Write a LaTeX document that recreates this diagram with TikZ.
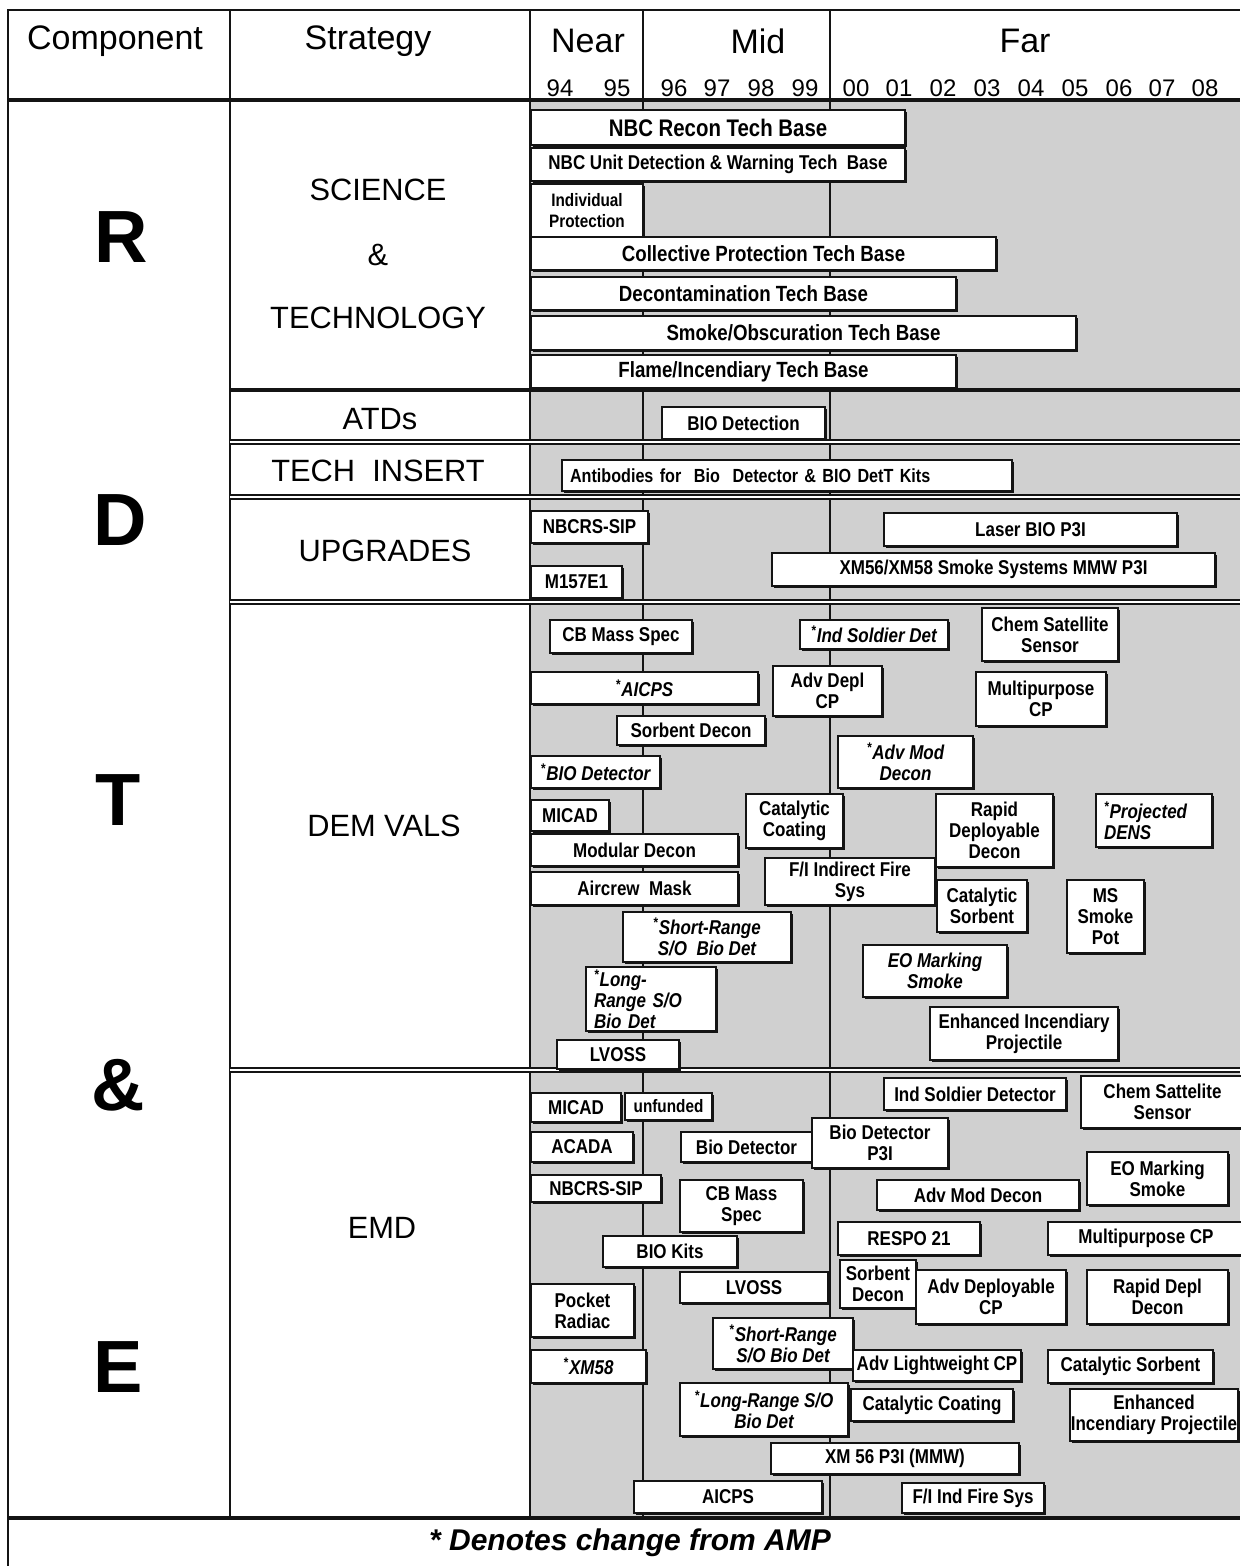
\documentclass[tikz,border=0pt]{standalone}
\usepackage{fontspec}
\setmainfont{Liberation Sans}
\newfontfamily\boxfont{Liberation Sans}[FakeStretch=0.85]
\usepackage{xcolor}
\definecolor{screen}{RGB}{208,208,208}
\definecolor{ink}{RGB}{20,20,20}
\usetikzlibrary{shadows}

%% one programme box: [style] name, x1, y1, x2, y2, text (pixel grid)
\newcommand\bx[7][]{%
  \node[prog,#1,minimum width={(#5-#3)*0.5pt},minimum height={(#6-#4)*0.5pt}]
    (#2) at ({(#3+#5)/2},{(#4+#6)/2}) {#7};}

\begin{document}
\begin{tikzpicture}[x=0.5pt,y=-0.5pt,
  prog/.style={draw=ink,line width=0.9pt,fill=white,inner sep=0pt,align=center,
    font=\boxfont\fontsize{10}{10.5}\selectfont\bfseries,
    drop shadow={shadow xshift=1pt,shadow yshift=-1pt,fill=ink,opacity=1}},
  fs/.style={font=\boxfont\fontsize{#1}{10.5}\selectfont\bfseries},
  it/.style={font=\boxfont\fontsize{10}{10.5}\selectfont\bfseries\itshape},
  lft/.style={align=left,text width={#1*0.5pt},inner xsep=4pt},
  rule/.style={draw=ink,line width=1.1pt},
  heavy/.style={draw=ink,line width=2pt},
  dbl/.style={draw=ink,double,double distance=1.1pt,line width=0.8pt},
  head/.style={font=\fontsize{17}{20}\selectfont},
  strat/.style={font=\fontsize{15.4}{19}\selectfont},
  big/.style={font=\fontsize{37}{40}\selectfont\bfseries},
  yr/.style={font=\fontsize{12}{14}\selectfont}]
  \useasboundingbox (0,0) rectangle (1240,1566);

  %% screened time-line area
  \fill[screen] (530,100) rectangle (1240,1518);

  %% frame and columns
  \draw[rule] (8,1566) -- (8,10) -- (1240,10);
  \foreach \cx in {230,530,643,830}
    \draw[rule] (\cx,10) -- (\cx,1518);
  \draw[heavy] (8,100) -- (1240,100);
  \draw[heavy] (8,1518) -- (1240,1518);
  \draw[heavy] (230,390) -- (1240,390);
  \foreach \ry in {442,497,602,1070}
    \draw[dbl] (230,\ry) -- (1240,\ry);

  %% header
  \node[head] (hcomp) at (115,41) {Component};
  \node[head] (hstrat) at (368,41) {Strategy};
  \node[head] (hnear) at (588,41) {Near};
  \node[head] (hmid) at (758,41) {Mid};
  \node[head] (hfar) at (1025,41) {Far};
  \foreach \yl/\yx in {94/560,95/617,96/674,97/717,98/761,99/805,
      00/856,01/899,02/943,03/987,04/1031,05/1075,06/1119,07/1162,08/1205}
    \node[yr] (y\yl) at (\yx,88) {\yl};

  %% component letters
  \node[big] (cR) at (121,237) {R};
  \node[big] (cD) at (120,520) {D};
  \node[big] (cT) at (118,800) {T};
  \node[big] (cA) at (118,1085) {\&};
  \node[big] (cE) at (118,1367) {E};

  %% strategies
  \node[strat] (sci) at (378,190) {SCIENCE};
  \node[strat] (amp) at (378,255) {\&};
  \node[strat] (tec) at (378,318) {TECHNOLOGY};
  \node[strat] (atd) at (380,419) {ATDs};
  \node[strat] (ins) at (378,471) {TECH\ \ INSERT};
  \node[strat] (upg) at (385,551) {UPGRADES};
  \node[strat] (dem) at (384,826) {DEM VALS};
  \node[strat] (emd) at (382,1228) {EMD};

  %% science & technology
  \bx[fs=12]{nbcrecon}{531}{110}{905}{145}{NBC Recon Tech Base}
  \bx{nbcunit}{531}{148}{905}{181}{NBC Unit Detection \& Warning Tech\ \ Base}
  \bx[fs=9]{indprot}{531}{184}{643}{237}{Individual\\Protection}
  \bx[fs=11]{colprot}{531}{237}{996}{270}{Collective Protection Tech Base}
  \bx[fs=11]{decon}{531}{277}{956}{310}{Decontamination Tech Base}
  \bx[fs=11]{smoke}{531}{316}{1076}{350}{Smoke/Obscuration Tech Base}
  \bx[fs=11]{flame}{531}{355}{956}{388}{Flame/Incendiary Tech Base}

  %% ATDs, tech insert, upgrades
  \bx{biodet}{662}{407}{825}{439}{BIO Detection}
  \bx[fs=9.5,lft=434]{antib}{566}{460}{1008}{491}{Antibodies for\ \ Bio\ \ Detector \& BIO DetT Kits}
  \bx{upsip}{531}{511}{648}{543}{NBCRS-SIP}
  \bx{m157}{531}{566}{622}{598}{M157E1}
  \bx{laser}{884}{513}{1177}{546}{Laser BIO P3I}
  \bx{xm56}{772}{553}{1215}{586}{XM56/XM58 Smoke Systems MMW P3I}

  %% demonstration / validation
  \bx{dmass}{550}{620}{692}{653}{CB Mass Spec}
  \bx[it]{dsold}{800}{620}{948}{649}{\textsuperscript{*}Ind Soldier Det}
  \bx{dchem}{982}{608}{1118}{661}{Chem Satellite\\Sensor}
  \bx[it]{daicps}{531}{672}{758}{704}{\textsuperscript{*}AICPS}
  \bx{ddepl}{773}{666}{882}{716}{Adv Depl\\CP}
  \bx{dmulti}{976}{672}{1106}{726}{Multipurpose\\CP}
  \bx{dsorb}{617}{716}{765}{745}{Sorbent Decon}
  \bx[it]{dmod}{838}{736}{973}{788}{\textsuperscript{*}Adv Mod\\Decon}
  \bx[it]{dbio}{531}{756}{660}{788}{\textsuperscript{*}BIO Detector}
  \bx{dmicad}{531}{800}{609}{831}{MICAD}
  \bx{dcoat}{746}{794}{843}{848}{Catalytic\\Coating}
  \bx{drapid}{936}{794}{1053}{867}{Rapid\\Deployable\\Decon}
  \bx[it,lft=100]{ddens}{1100}{794}{1208}{847}{\textsuperscript{*}Projected\\DENS}
  \bx{dmodd}{531}{834}{738}{866}{Modular Decon}
  \bx{dfire}{765}{858}{935}{905}{F/I Indirect Fire\\Sys}
  \bx{dmask}{531}{872}{738}{905}{Aircrew\ \ Mask}
  \bx{dcsorb}{937}{880}{1027}{932}{Catalytic\\Sorbent}
  \bx{dpot}{1067}{880}{1144}{953}{MS\\Smoke\\Pot}
  \bx[it]{dshort}{623}{912}{791}{962}{\textsuperscript{*}Short-Range\\S/O\ \ Bio Det}
  \bx[it]{deo}{863}{945}{1007}{997}{EO Marking\\Smoke}
  \bx[it,lft=114]{dlong}{590}{967}{712}{1031}{\textsuperscript{*}Long-\\Range S/O\\Bio Det}
  \bx{dinc}{930}{1007}{1118}{1060}{Enhanced Incendiary\\Projectile}
  \bx{dlvoss}{557}{1040}{679}{1069}{LVOSS}

  %% engineering & manufacturing development
  \bx{emicad}{531}{1093}{621}{1122}{MICAD}
  \bx[fs=9]{eunf}{625}{1093}{712}{1120}{unfunded}
  \bx{esold}{884}{1078}{1066}{1110}{Ind Soldier Detector}
  \bx{echem}{1081}{1076}{1244}{1128}{Chem Sattelite\\Sensor}
  \bx{eacada}{531}{1132}{633}{1162}{ACADA}
  \bx{ebio}{681}{1132}{812}{1162}{Bio Detector}
  \bx{ebiop}{812}{1118}{948}{1168}{Bio Detector\\P3I}
  \bx{esip}{531}{1175}{661}{1202}{NBCRS-SIP}
  \bx{emass}{680}{1180}{803}{1232}{CB Mass\\Spec}
  \bx{emod}{877}{1180}{1079}{1210}{Adv Mod Decon}
  \bx{eeo}{1087}{1152}{1228}{1205}{EO Marking\\Smoke}
  \bx{ekits}{603}{1236}{737}{1267}{BIO Kits}
  \bx{erespo}{838}{1222}{980}{1255}{RESPO 21}
  \bx{emulti}{1048}{1222}{1244}{1255}{Multipurpose CP}
  \bx{elvoss}{680}{1272}{828}{1303}{LVOSS}
  \bx{esorb}{840}{1260}{916}{1308}{Sorbent\\Decon}
  \bx{edepl}{916}{1270}{1066}{1324}{Adv Deployable\\CP}
  \bx{erapid}{1087}{1270}{1228}{1324}{Rapid Depl\\Decon}
  \bx{eradiac}{531}{1284}{634}{1337}{Pocket\\Radiac}
  \bx[it]{eshort}{713}{1318}{853}{1369}{\textsuperscript{*}Short-Range\\S/O Bio Det}
  \bx[it]{exm58}{531}{1350}{646}{1383}{\textsuperscript{*}XM58}
  \bx{elight}{853}{1350}{1021}{1381}{Adv Lightweight CP}
  \bx{ecsorb}{1048}{1350}{1213}{1383}{Catalytic Sorbent}
  \bx[it]{elong}{680}{1383}{848}{1436}{\textsuperscript{*}Long-Range S/O\\Bio Det}
  \bx{ecoat}{851}{1389}{1013}{1421}{Catalytic Coating}
  \bx{einc}{1070}{1389}{1238}{1441}{Enhanced\\Incendiary Projectile}
  \bx{exm56}{771}{1443}{1019}{1474}{XM 56 P3I (MMW)}
  \bx{eaicps}{634}{1481}{822}{1513}{AICPS}
  \bx{efire}{902}{1483}{1044}{1513}{F/I Ind Fire Sys}

  %% footnote
  \node[font=\fontsize{15}{18}\selectfont\bfseries\itshape] (note) at (630,1543)
    {* Denotes change from AMP};
\end{tikzpicture}
\end{document}
